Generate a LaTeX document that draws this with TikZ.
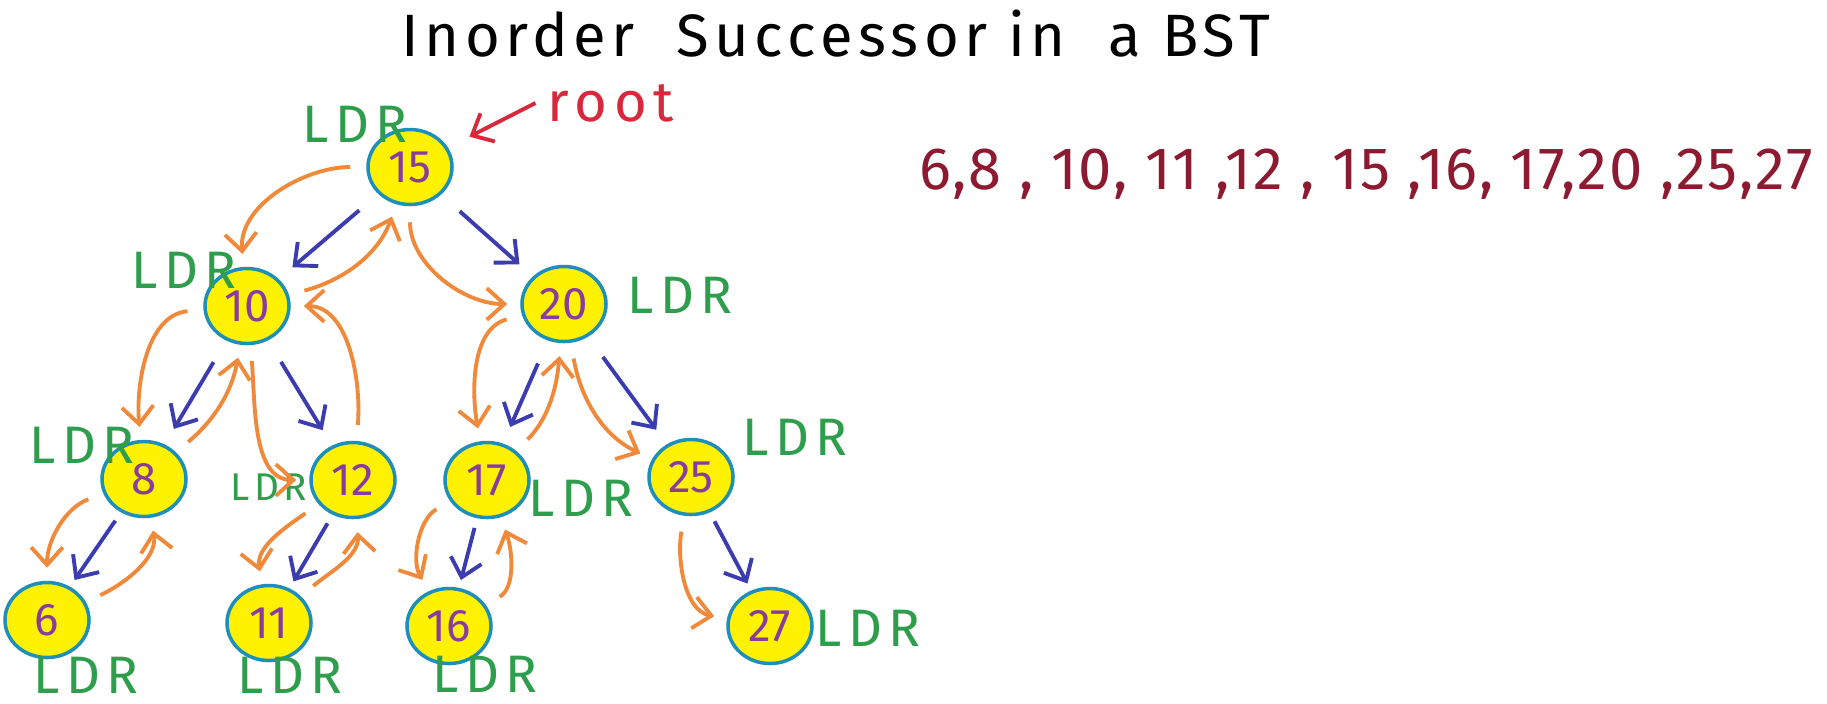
\documentclass[tikz,border=0pt]{standalone}
\usepackage{fontspec}
\setmainfont{Fira Sans}
\newfontfamily\handfont[LetterSpace=12]{Fira Sans}
\newfontfamily\titlefont[LetterSpace=9]{Fira Sans}
\newfontfamily\seqfont[LetterSpace=3]{Fira Sans}
\usepackage{xcolor}
\definecolor{bstyellow}{HTML}{FFF200}
\definecolor{bstring}{HTML}{1E8FB8}
\definecolor{bstpurple}{HTML}{8A3C9E}
\definecolor{bstgreen}{HTML}{2E9D4C}
\definecolor{bstblue}{HTML}{3A3CB0}
\definecolor{bstorange}{HTML}{F0893A}
\definecolor{bstmaroon}{HTML}{8C1A30}
\definecolor{bstred}{HTML}{D8283C}
\usetikzlibrary{shapes.geometric,arrows.meta}

\begin{document}
\begin{tikzpicture}[
      key/.style={ellipse, draw=bstring, line width=1pt, fill=bstyellow, minimum width=0.84cm, minimum height=0.75cm, inner sep=0pt, text=bstpurple, font=\fontsize{13}{13}\selectfont},
      ldr/.style={text=bstgreen, inner sep=0pt, font=\handfont\fontsize{15}{15}\selectfont},
      down/.style={draw=bstblue, line width=1.1pt, -{Straight Barb[length=5pt,width=9pt]}, shorten <=0.25cm, shorten >=0.18cm},
      shortdown/.style={down, shorten <=0.1cm, shorten >=0.08cm},
      tour/.style={draw=bstorange, line width=1.1pt, -{Straight Barb[length=5pt,width=9pt]}, shorten <=0.16cm, shorten >=0.13cm}
    ]
    \useasboundingbox (0,0) rectangle (18.27,-7.03);
    \fill[white] (0,0) rectangle (18.27,-7.03);
    % title and inorder sequence
    \node[font=\titlefont\fontsize{17}{17}\selectfont] (title) at (8.36,-0.34) {Inorder\ \ Successor in\ \ a BST};
    \node[text=bstmaroon, font=\seqfont\fontsize{17}{17}\selectfont] (inorder) at (13.66,-1.74) {6,8 , 10, 11 ,12 , 15 ,16, 17,20 ,25,27};
    % keys
    \node[key] (n15) at (4.10,-1.67) {15};
    \node[key] (n10) at (2.47,-3.06) {10};
    \node[key] (n20) at (5.64,-3.04) {20};
    \node[key] (n8)  at (1.44,-4.79) {8};
    \node[key] (n12) at (3.53,-4.80) {12};
    \node[key] (n17) at (4.87,-4.80) {17};
    \node[key] (n25) at (6.91,-4.77) {25};
    \node[key] (n6)  at (0.47,-6.20) {6};
    \node[key] (n11) at (2.69,-6.23) {11};
    \node[key] (n16) at (4.49,-6.26) {16};
    \node[key] (n27) at (7.70,-6.26) {27};
    % LDR labels
    \node[ldr] (l15) at (3.55,-1.24) {LDR};
    \node[ldr] (l10) at (1.84,-2.70) {LDR};
    \node[ldr] (l20) at (6.80,-2.95) {LDR};
    \node[ldr] (l8)  at (0.82,-4.45) {LDR};
    \node[ldr, font=\handfont\fontsize{11}{11}\selectfont] (l12) at (2.69,-4.87) {LDR};
    \node[ldr] (l17) at (5.81,-4.98) {LDR};
    \node[ldr] (l25) at (7.95,-4.37) {LDR};
    \node[ldr] (l6)  at (0.86,-6.75) {LDR};
    \node[ldr] (l11) at (2.90,-6.75) {LDR};
    \node[ldr] (l16) at (4.85,-6.74) {LDR};
    \node[ldr] (l27) at (8.68,-6.28) {LDR};
    % root pointer
    \node[text=bstred, font=\handfont\fontsize{16}{16}\selectfont] (root) at (6.11,-1.03) {root};
    \draw[draw=bstred, line width=1.1pt, -{Straight Barb[length=5pt,width=9pt]}, shorten >=0.24cm] (root.west) -- (n15);
    % parent to child
    \foreach \p/\c in {n15/n10,n15/n20,n10/n8,n10/n12,n20/n17,n20/n25} { \draw[down] (\p) -- (\c); }
    \foreach \p/\c in {n8/n6,n12/n11,n17/n16,n25/n27} { \draw[shortdown] (\p) -- (\c); }
    % inorder walk
    \foreach \a/\b/\o/\i in {n15/n10/180/95, n10/n8/185/95, n8/n6/200/90, n6/n8/25/-80, n8/n10/40/-100,
        n10/n12/-85/180, n12/n11/215/100, n11/n12/40/-85, n12/n10/85/0, n10/n15/15/-110,
        n15/n20/-90/180, n20/n17/195/100, n17/n16/210/120, n16/n17/30/-70, n17/n20/45/-95,
        n20/n25/-80/155, n25/n27/-100/170} { \draw[tour] (\a) to[out=\o,in=\i] (\b); }
  \end{tikzpicture}
\end{document}
